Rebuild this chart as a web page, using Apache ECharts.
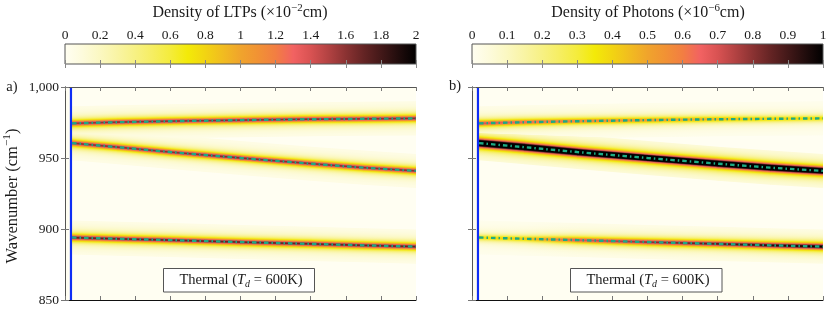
<!DOCTYPE html>
<html><head><meta charset="utf-8">
<script src="https://cdn.jsdelivr.net/npm/echarts@6/dist/echarts.min.js"></script>
<style>html,body{margin:0;padding:0;background:#fff}#c{width:831px;height:310px}</style>
</head><body><div id="c"></div>
<script>
// ---------------- data ----------------
const xKnots      = [2, 15, 30, 50, 70, 85, 100];
const upperLine   = [974.4, 975.2, 975.9, 976.7, 977.3, 977.6, 977.9];
const middleLine  = [960.5, 957.6, 954.2, 950.0, 946.0, 943.2, 940.9];
const lowerLine   = [894.0, 893.1, 892.2, 890.8, 889.5, 888.5, 887.6];
// peak density along each band (panel a: x1e-2 cm, panel b: x1e-6 cm)
const ltpUpper    = [1.6, 1.65, 1.65, 1.65, 1.65, 1.65, 1.65];
const ltpMiddle   = [1.65, 1.65, 1.65, 1.65, 1.65, 1.65, 1.65];
const ltpLower    = [1.75, 1.75, 1.75, 1.75, 1.75, 1.75, 1.75];
const phUpper     = [0.72, 0.66, 0.6, 0.55, 0.48, 0.43, 0.40];
const phMiddle    = [1.8, 1.8, 1.75, 1.7, 1.7, 1.65, 1.6];
const phLower     = [0.38, 0.45, 0.7, 0.82, 0.9, 0.97, 1.05];
const thermalX    = 1.7;          // blue vertical line
const ltpTicks    = [0, 0.2, 0.4, 0.6, 0.8, 1, 1.2, 1.4, 1.6, 1.8, 2];
const photonTicks = [0, 0.1, 0.2, 0.3, 0.4, 0.5, 0.6, 0.7, 0.8, 0.9, 1];
const yTicks      = [850, 900, 950, 1000];
const xTicks      = [0, 10, 20, 30, 40, 50, 60, 70, 80, 90, 100];

// ---------------- style ----------------
const CMAP = ['#FFFEF2','#FDFBDC','#FBF8C2','#F9F4A4','#F7F184','#F6EE62','#F4EC3C','#F3EA08',
  '#F2D412','#F1BC20','#F0A42C','#F19234','#F27E42','#F26262','#D85252','#B24242','#8A3232',
  '#642424','#421818','#200C0C','#000000'];
const GLOW_W = 2.3;   // half-width of the glow (cm^-1)
const FONT = "'Liberation Serif', 'DejaVu Serif', serif";
const TXT = '#1a1a1a';
const GREEN = '#1DAA84';
const BLUE = '#0F2DF5';

const RGB = CMAP.map(h => [parseInt(h.slice(1,3),16), parseInt(h.slice(3,5),16), parseInt(h.slice(5,7),16)]);
function cmap(t){
  t = Math.max(0, Math.min(1, t));
  const n = RGB.length - 1, f = t * n, i = Math.min(Math.floor(f), n - 1), u = f - i;
  const a = RGB[i], b = RGB[i + 1];
  return 'rgb(' + [0,1,2].map(k => Math.round(a[k] + (b[k] - a[k]) * u)).join(',') + ')';
}
const profile = d => 1 / (1 + (d / GLOW_W) * (d / GLOW_W));
const LEVELS = [];
for (let d = 12; d > 0.1; d -= 0.35) LEVELS.push(d);

const lines = [upperLine, middleLine, lowerLine];
const panels = [
  {peaks: [ltpUpper, ltpMiddle, ltpLower], max: ltpTicks[ltpTicks.length - 1]},
  {peaks: [phUpper, phMiddle, phLower], max: photonTicks[photonTicks.length - 1]}
];
const glowItems = [];
LEVELS.forEach((d, li) => lines.forEach((ln, k) => {
  for (let s = 0; s < xKnots.length - 1; s++) glowItems.push([li, k, s]);
}));

function glowRenderer(panel){
  return function(params, api){
    const d = LEVELS[api.value(0)], k = api.value(1), s = api.value(2);
    const ys = lines[k], pk = panel.peaks[k];
    const x0 = xKnots[s], x1 = xKnots[s + 1];
    const a = api.coord([x0, ys[s] + d]), b = api.coord([x1, ys[s + 1] + d]);
    const c = api.coord([x1, ys[s + 1] - d]), e = api.coord([x0, ys[s] - d]);
    const ext = s < xKnots.length - 2 ? 0.5 : 0;
    b[0] += ext; c[0] += ext;
    const c0 = cmap(pk[s] / panel.max * profile(d)), c1 = cmap(pk[s + 1] / panel.max * profile(d));
    return {type: 'polygon', shape: {points: [a, b, c, e]},
      style: {fill: new echarts.graphic.LinearGradient(a[0], 0, b[0], 0,
        [{offset: 0, color: c0}, {offset: 1, color: c1}], true)}};
  };
}
function colorbarRenderer(max){
  return function(params, api){
    const p0 = api.coord([0, 1]), p1 = api.coord([max, 0]);
    return {type: 'rect', shape: {x: p0[0], y: p0[1], width: p1[0] - p0[0], height: p1[1] - p0[1]},
      style: {fill: new echarts.graphic.LinearGradient(0, 0, 1, 0,
        CMAP.map((c, i) => ({offset: i / (CMAP.length - 1), color: c}))), stroke: '#555', lineWidth: 1}};
  };
}

const chart = echarts.init(document.getElementById('c'), null, {renderer: 'canvas'});
const PLOT = {top: 87, height: 213, width: 351};
const grids = [
  Object.assign({left: 65}, PLOT), Object.assign({left: 472}, PLOT),
  {left: 65, top: 44, width: 351, height: 20}, {left: 472, top: 44, width: 351, height: 20}
];
grids.forEach((g, i) => { if (i < 2) { g.show = true; g.backgroundColor = CMAP[0]; g.borderWidth = 0; } });

const tickStyle = {show: true, inside: true, length: 4, lineStyle: {color: '#777'}};
function plotX(gi, pos, lineColor){
  return {type: 'value', gridIndex: gi, position: pos, min: xTicks[0], max: xTicks[xTicks.length - 1],
    interval: xTicks[1] - xTicks[0], z: 10, axisLabel: {show: false}, splitLine: {show: false},
    axisLine: {show: true, lineStyle: {color: lineColor, width: 1}}, axisTick: tickStyle};
}
function plotY(gi, pos, labels){
  return {type: 'value', gridIndex: gi, position: pos, min: yTicks[0], max: yTicks[yTicks.length - 1],
    interval: yTicks[1] - yTicks[0], z: 10, splitLine: {show: false},
    axisLine: {show: true, lineStyle: {color: '#555', width: 1}}, axisTick: tickStyle,
    axisLabel: {show: labels, margin: 6, fontFamily: FONT, fontSize: 13.5, color: TXT}};
}
function barX(gi, pos, ticks, labels){
  return {type: 'value', gridIndex: gi, position: pos, min: ticks[0], max: ticks[ticks.length - 1],
    interval: ticks[1] - ticks[0], z: 10, splitLine: {show: false}, axisLine: {show: false},
    axisTick: {show: true, inside: true, length: 4, lineStyle: {color: '#888'}},
    axisLabel: {show: labels, margin: 2, fontFamily: FONT, fontSize: 13.5, color: TXT}};
}
const xAxes = [plotX(0, 'bottom', '#111'), plotX(0, 'top', '#555'), plotX(1, 'bottom', '#111'), plotX(1, 'top', '#555'),
  barX(2, 'top', ltpTicks, true), barX(2, 'bottom', ltpTicks, false),
  barX(3, 'top', photonTicks, true), barX(3, 'bottom', photonTicks, false)];
const yAxes = [plotY(0, 'left', true), plotY(0, 'right', false), plotY(1, 'left', false), plotY(1, 'right', false),
  {type: 'value', gridIndex: 2, min: 0, max: 1, show: false}, {type: 'value', gridIndex: 3, min: 0, max: 1, show: false}];

const series = [];
[0, 1].forEach(p => {
  const xi = p * 2, yi = p * 2;
  series.push({type: 'custom', xAxisIndex: xi, yAxisIndex: yi, data: glowItems, renderItem: glowRenderer(panels[p]),
    silent: true, clip: true, z: 1, animation: false});
  lines.forEach(ln => series.push({type: 'line', xAxisIndex: xi, yAxisIndex: yi, data: xKnots.map((x, i) => [x, ln[i]]),
    symbol: 'none', silent: true, z: 4, animation: false,
    lineStyle: {color: GREEN, width: 2.4, type: [4.5, 3, 1.5, 3]}}));
  series.push({type: 'line', xAxisIndex: xi, yAxisIndex: yi, data: [[thermalX, yTicks[0]], [thermalX, yTicks[yTicks.length - 1]]],
    symbol: 'none', silent: true, z: 5, animation: false, lineStyle: {color: BLUE, width: 2.2}});
});
series.push({type: 'custom', xAxisIndex: 4, yAxisIndex: 4, data: [[0, 0]], renderItem: colorbarRenderer(ltpTicks[ltpTicks.length - 1]), silent: true, z: 1, animation: false});
series.push({type: 'custom', xAxisIndex: 6, yAxisIndex: 5, data: [[0, 0]], renderItem: colorbarRenderer(photonTicks[photonTicks.length - 1]), silent: true, z: 1, animation: false});

function richSet(fs){
  return {
    m: {fontFamily: FONT, fontSize: fs, color: TXT, lineHeight: fs + 5},
    s: {fontFamily: FONT, fontSize: fs * 0.68, color: TXT, lineHeight: fs * 0.7, verticalAlign: 'top'},
    i: {fontFamily: FONT, fontSize: fs, fontStyle: 'italic', color: TXT, lineHeight: fs + 5},
    sub: {fontFamily: FONT, fontSize: fs * 0.68, fontStyle: 'italic', color: TXT, lineHeight: fs * 0.7, verticalAlign: 'bottom'}
  };
}
function txt(x, y, text, fs, extra){
  return Object.assign({type: 'text', x: x, y: y, z: 100, silent: true,
    style: {text: text, rich: richSet(fs), align: 'center', verticalAlign: 'middle', fontFamily: FONT, fontSize: fs, fill: TXT}}, extra || {});
}
const graphic = [
  txt(240, 13, '{m|Density of LTPs (×10}{s|−2}{m|cm)}', 16),
  txt(648, 13, '{m|Density of Photons (×10}{s|−6}{m|cm)}', 16),
  txt(12.5, 196, '{m|Wavenumber (cm}{s|−1}{m|)}', 16.5, {rotation: Math.PI / 2}),
  txt(12, 87, '{m|a)}', 14.5),
  txt(455, 86, '{m|b)}', 14.5),
  {type: 'rect', z: 99, silent: true, shape: {x: 163.5, y: 268.5, width: 151, height: 23.5}, style: {fill: '#fff', stroke: '#555', lineWidth: 1}},
  {type: 'rect', z: 99, silent: true, shape: {x: 570.5, y: 268.5, width: 151.5, height: 23.5}, style: {fill: '#fff', stroke: '#555', lineWidth: 1}},
  txt(241, 280, '{m|Thermal (}{i|T}{sub|d}{m| = 600K)}', 14.5),
  txt(648, 280, '{m|Thermal (}{i|T}{sub|d}{m| = 600K)}', 14.5)
];

chart.setOption({animation: false, backgroundColor: '#fff', grid: grids, xAxis: xAxes, yAxis: yAxes, series: series, graphic: graphic});
</script></body></html>
